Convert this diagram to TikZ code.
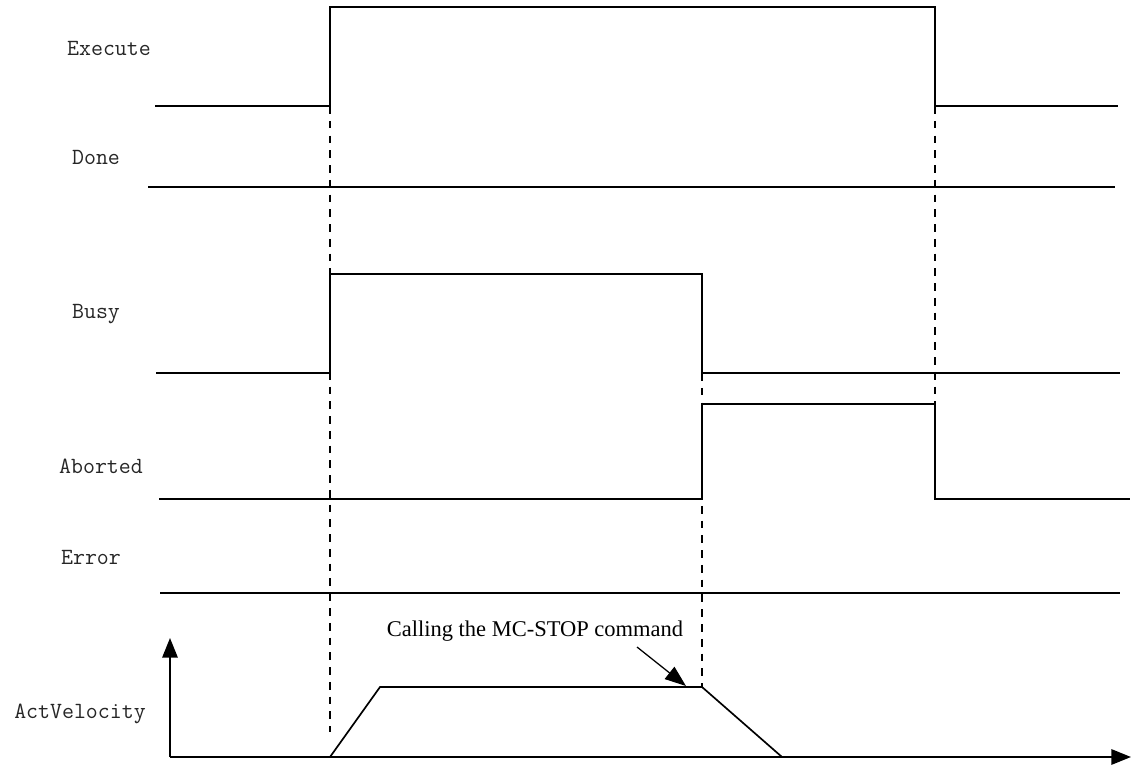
\documentclass[tikz,border=0pt]{standalone}
\usepackage{fontspec}
\setmainfont{Liberation Serif}
\usetikzlibrary{arrows.meta,positioning}

\begin{document}
\begin{tikzpicture}[
  x=0.025cm,y=-0.025cm,
  sig/.style={black,line width=1.2pt},
  guide/.style={black,line width=0.9pt,dash pattern=on 5.5pt off 5pt},
  axis/.style={-{Triangle[length=14pt,width=11pt]},black,line width=1.2pt},
  pointer/.style={-{Triangle[length=15pt,width=11pt]},black,line width=0.9pt},
  lbl/.style={font=\ttfamily\fontsize{16.5}{18}\selectfont,text=black!85},
  note/.style={font=\fontsize{16}{18}\selectfont,inner sep=1pt}
]
  \useasboundingbox (0,0) rectangle (1132,767);
  % signal names
  \foreach \nm/\xx/\yy in {Execute/109/48,Done/96/157,Busy/96/314,Aborted/101/466,Error/91/557,ActVelocity/80/714}
    \node[lbl] (\nm) at (\xx,\yy) {\nm};
  % edges
  \draw[guide] (330,106) -- (330,732);
  \draw[guide] (702,373) -- (702,687);
  \draw[guide] (935,106) -- (935,404);
  % waveforms
  \draw[sig] (155,106) -- (330,106) -- (330,7) -- (935,7) -- (935,106) -- (1118,106);
  \draw[sig] (148,187) -- (1115,187);
  \draw[sig] (156,373) -- (330,373) -- (330,274) -- (702,274) -- (702,373) -- (1120,373);
  \draw[sig] (159,499) -- (702,499) -- (702,404) -- (935,404) -- (935,499) -- (1130,499);
  \draw[sig] (160,593) -- (1120,593);
  % velocity
  \coordinate (o) at (170,757);
  \draw[axis] (o) -- (170,638);
  \draw[axis] (o) -- (1131,757);
  \draw[sig] (330,757) -- (380,687) -- (702,687) -- (782,757);
  \node[note] (stop) at (535,631) {Calling the MC-STOP command};
  \coordinate (tail) at (637,647);
  \coordinate (hit) at (686,686);
  \draw[pointer] (tail) -- (hit);
\end{tikzpicture}
\end{document}
